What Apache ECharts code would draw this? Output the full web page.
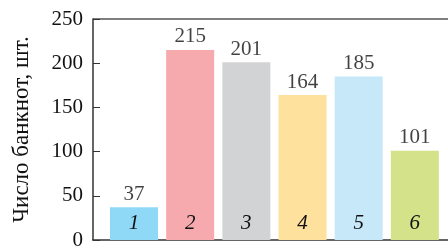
<!DOCTYPE html>
<html>
<head>
<meta charset="utf-8">
<script src="https://cdn.jsdelivr.net/npm/echarts@6/dist/echarts.min.js"></script>
<style>
  html, body { margin: 0; padding: 0; background: #fff; }
  #chart { width: 448px; height: 251px; }
</style>
</head>
<body>
<div id="chart"></div>
<script>
var chart = echarts.init(document.getElementById("chart"));

var categories = ["1", "2", "3", "4", "5", "6"];
var values = [37, 215, 201, 164, 185, 101];
var colors = ["#8fd8f6", "#f6aaad", "#d1d3d5", "#fde19d", "#c6e8f8", "#d4e28a"];
var yTicks = [0, 50, 100, 150, 200, 250];

var font = "Liberation Serif";

var barData = [];
var topData = [];
for (var i = 0; i < categories.length; i++) {
  barData.push({
    value: [i + 1, values[i]],
    name: categories[i],
    itemStyle: { color: colors[i] },
  });
  topData.push([i + 1, values[i]]);
}

chart.setOption({
  animation: false,
  grid: {
    left: 93,
    right: 0,
    top: 19,
    bottom: 11,
  },
  xAxis: {
    type: "value",
    min: 0.27,
    max: 6.59,
    axisLine: { show: true, lineStyle: { color: "#333", width: 1.5 } },
    axisTick: { show: false },
    axisLabel: { show: false },
    splitLine: { show: false },
  },
  yAxis: {
    type: "value",
    min: yTicks[0],
    max: yTicks[yTicks.length - 1],
    interval: 50,
    name: "Число банкнот, шт.",
    nameLocation: "middle",
    nameGap: 60,
    nameTextStyle: { fontFamily: font, fontSize: 23, color: "#111" },
    axisLine: { show: true, lineStyle: { color: "#333", width: 1.5 } },
    axisTick: { show: true, inside: true, length: 7, lineStyle: { color: "#333", width: 1 } },
    axisLabel: { fontFamily: font, fontSize: 21, color: "#111", margin: 10 },
    splitLine: { show: false },
  },
  graphic: [
    {
      type: "line",
      shape: { x1: 93, y1: 19, x2: 448, y2: 19 },
      style: { stroke: "#555", lineWidth: 1.5 },
    },
  ],
  series: [
    {
      type: "bar",
      barWidth: 48,
      data: barData,
      label: {
        show: true,
        position: "insideBottom",
        distance: 6,
        formatter: function (p) { return p.name; },
        fontFamily: font,
        fontStyle: "italic",
        fontSize: 21,
        color: "#111",
      },
    },
    {
      type: "scatter",
      symbolSize: 1,
      itemStyle: { color: "rgba(0,0,0,0)" },
      data: topData,
      label: {
        show: true,
        position: "top",
        distance: 2,
        formatter: function (p) { return p.value[1]; },
        fontFamily: font,
        fontSize: 21,
        color: "#111",
      },
    },
  ],
});
</script>
</body>
</html>
